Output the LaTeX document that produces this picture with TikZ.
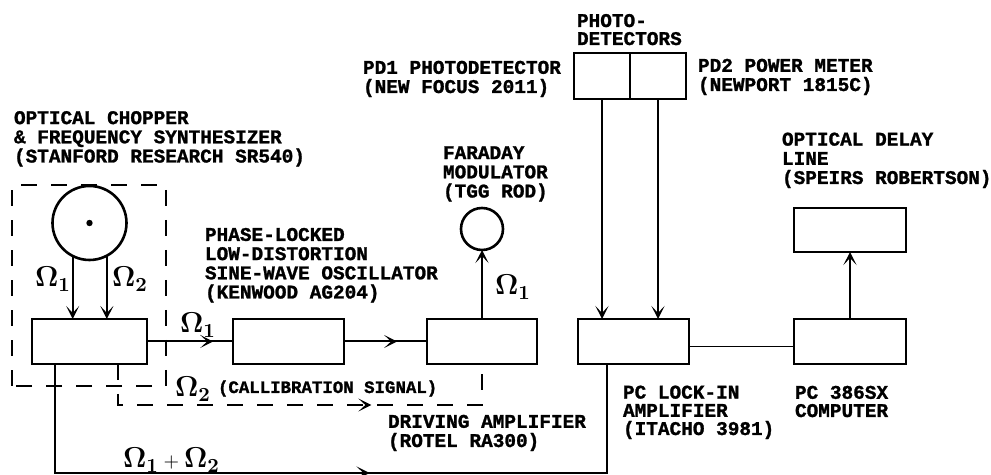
\documentclass[tikz,border=0pt]{standalone}
\usepackage[no-math]{fontspec}
\usepackage{amsmath}
\usepackage{tikz}
\usetikzlibrary{positioning,arrows.meta,calc,decorations.markings}
\newfontfamily\lblmono{Liberation Mono}[BoldFeatures={FakeBold=1.3}]
\newcommand{\lblfont}{\lblmono\bfseries\fontsize{9.7}{9.6}\selectfont}
\newcommand{\calfont}{\lblmono\bfseries\fontsize{8.7}{9}\selectfont}
\newcommand{\omegafont}{\fontsize{14.4}{14.4}\selectfont}
\newcommand{\Om}[1]{\mathbf{\Omega}_{\mathbf{#1}}}

\begin{document}
\begin{tikzpicture}[
    x=0.5pt, y=-0.5pt,
    every node/.style={inner sep=0pt, outer sep=0pt},
    box/.style={draw, line width=1.3pt, minimum width=55.5pt, minimum height=22.5pt},
    disc/.style={draw, circle, line width=1.3pt},
    lbl/.style={font=\lblfont, align=left, anchor=base west},
    omega/.style={font=\omegafont, anchor=base west},
    arrow/.style={-{Stealth[length=6.5pt, width=6.5pt, inset=3.5pt]}, line width=1pt},
    midarrow/.style={line width=1pt, postaction={decorate},
      decoration={markings, mark=at position #1 with {\arrow{Stealth[length=6.5pt, width=6.5pt, inset=3.5pt]}}}},
    dashline/.style={line width=1.1pt, dash pattern=on 8pt off 7pt},
    thinline/.style={line width=0.7pt}
  ]
  \useasboundingbox (0,0) rectangle (991,475);

  % --- Chopper + synthesizer ---
  \node[box, minimum width=57.5pt] (chop) at (89.5,341.5) {};
  \node[disc, minimum size=37pt, above=29.5pt of chop] (wheel) {};
  \fill (wheel.center) circle (1.6pt);
  \draw[dashline] ($(chop.south west)+(-10pt,-11pt)$) rectangle ($(wheel.north -| chop.east)+(9.5pt,0.5pt)$);

  % --- Signal chain ---
  \node[box, right=43pt of chop] (osc) {};
  \node[box, minimum width=55pt, right=41.5pt of osc] (amp) {};
  \node[disc, minimum size=21pt, above=34.5pt of amp] (far) {};
  \node[box, right=20.5pt of amp] (lockin) {};
  \node[box, minimum width=56pt, right=52.5pt of lockin] (pc) {};
  \node[box, minimum width=56pt, minimum height=22pt, above=33.5pt of pc] (delay) {};

  % --- Photodetectors ---
  \node[box, minimum width=28pt, minimum height=23pt] (pd1) at (602,76) {};
  \node[box, minimum width=28pt, minimum height=23pt, right=0pt of pd1] (pd2) {};

  % --- Labels (placed at the baseline of their last line) ---
  \node[lbl] (chopl) at (14,162.5) {OPTICAL CHOPPER\\\& FREQUENCY SYNTHESIZER\\(STANFORD RESEARCH SR540)};
  \node[lbl] (oscl) at (205,298.5) {PHASE-LOCKED\\LOW-DISTORTION\\SINE-WAVE OSCILLATOR\\(KENWOOD AG204)};
  \node[lbl] (farl) at (443,197.5) {FARADAY\\MODULATOR\\(TGG ROD)};
  \node[lbl] (pd1l) at (363,93) {PD1 PHOTODETECTOR\\(NEW FOCUS 2011)};
  \node[lbl, font=\lblmono\bfseries\fontsize{9.7}{9}\selectfont] (pdl) at (577,45) {PHOTO-\\DETECTORS};
  \node[lbl] (pd2l) at (698,91) {PD2 POWER METER\\(NEWPORT 1815C)};
  \node[lbl] (delayl) at (782,184) {OPTICAL DELAY\\LINE\\(SPEIRS ROBERTSON)};
  \node[lbl, font=\lblmono\bfseries\fontsize{9.7}{9.1}\selectfont] (lockl) at (623,435) {PC LOCK-IN\\AMPLIFIER\\(ITACHO 3981)};
  \node[lbl, font=\lblmono\bfseries\fontsize{9.7}{9.1}\selectfont] (pcl) at (795,417) {PC 386SX\\COMPUTER};
  \node[lbl] (ampl) at (388,447) {DRIVING AMPLIFIER\\(ROTEL RA300)};
  \node[lbl, font=\calfont] (call) at (218,393) {(CALLIBRATION SIGNAL)};

  % --- Frequencies ---
  \node[omega] (w1) at (35,287) {$\Om{1}$};
  \node[omega] (w2) at (112,287) {$\Om{2}$};
  \node[omega] (f1) at (180,333) {$\Om{1}$};
  \node[omega] (c2) at (175,397) {$\Om{2}$};
  \node[omega] (m1) at (495,295) {$\Om{1}$};
  \node[omega] (s12) at (123,468) {$\Om{1}\,{\scriptstyle +}\,\Om{2}$};

  % --- Connections ---
  \draw[arrow] (wheel.243) -- (wheel.243 |- chop.north);
  \draw[arrow] (wheel.298) -- (wheel.298 |- chop.north);
  \draw[midarrow=0.77] (chop) -- (osc);
  \draw[midarrow=0.64] (osc) -- (amp);
  \draw[arrow] (amp) -- (far);
  \draw[dashline, midarrow=0.66] ([xshift=14.25pt]chop.south) -- ++(0,-20.5pt) -| (amp.south);
  \draw[midarrow=0.55] ([xshift=-17.25pt]chop.south) -- ++(0,-54.5pt) -| ([xshift=-13.25pt]lockin.south);
  \draw[arrow] (pd1.south) -- (pd1.south |- lockin.north);
  \draw[arrow] (pd2.south) -- (pd2.south |- lockin.north);
  \draw[thinline] ([yshift=-2.5pt]lockin.east) -- ([yshift=-2.5pt]pc.west);
  \draw[arrow] (pc) -- (delay);

\end{tikzpicture}
\end{document}
